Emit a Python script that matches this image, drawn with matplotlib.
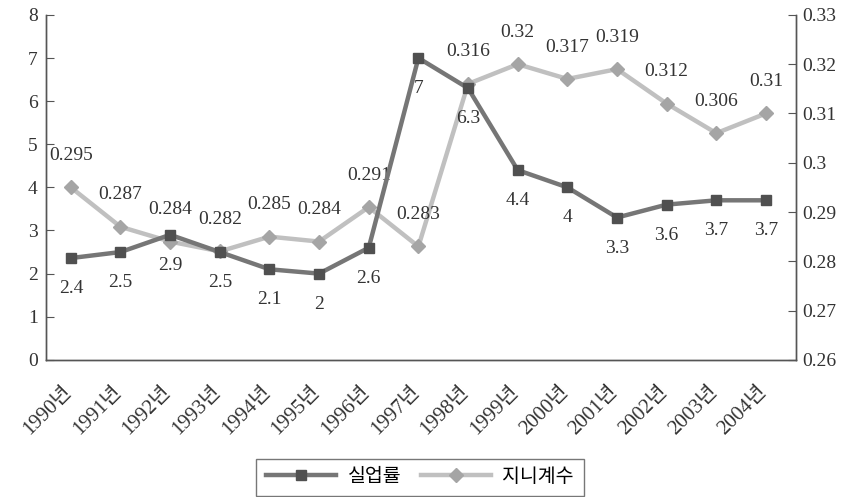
import matplotlib
matplotlib.use("Agg")
import matplotlib.pyplot as plt
import matplotlib.transforms as mtransforms
from matplotlib.lines import Line2D

plt.rcParams['font.family'] = ['Liberation Serif', 'Noto Sans CJK KR']

years = ["1990년", "1991년", "1992년", "1993년", "1994년", "1995년", "1996년", "1997년",
         "1998년", "1999년", "2000년", "2001년", "2002년", "2003년", "2004년"]
unemp = [2.36, 2.5, 2.9, 2.5, 2.1, 2.0, 2.6, 7.0, 6.3, 4.4, 4.0, 3.3, 3.6, 3.7, 3.7]
gini = [0.295, 0.287, 0.284, 0.282, 0.285, 0.284, 0.291, 0.283,
        0.316, 0.32, 0.317, 0.319, 0.312, 0.306, 0.31]

dark_line = "#767676"
dark_mark = "#505050"
light_line = "#c0c0c0"
light_mark = "#a5a5a5"
txt = "#333333"

fig = plt.figure(figsize=(8.52, 4.97), dpi=100)
ax = fig.add_axes([0.054, 0.276, 0.880, 0.694])
ax2 = ax.twinx()

x = list(range(len(years)))
ax.plot(x, unemp, color=dark_line, lw=3.2, marker="s", ms=7.5,
        mfc=dark_mark, mec=dark_mark, zorder=3)
ax2.plot(x, gini, color=light_line, lw=3.2, marker="D", ms=7.5,
         mfc=light_mark, mec=light_mark, zorder=2)
ax.set_zorder(ax2.get_zorder() + 1)
ax.patch.set_visible(False)

ax.set_xlim(-0.5, 14.6)
ax.set_ylim(0, 8)
ax2.set_ylim(0.26, 0.33)
ax.set_yticks(range(0, 9))
ax2.set_yticks([0.26, 0.27, 0.28, 0.29, 0.3, 0.31, 0.32, 0.33])
ax2.set_yticklabels(["0.26", "0.27", "0.28", "0.29", "0.3", "0.31", "0.32", "0.33"])

for a in (ax, ax2):
    a.spines["top"].set_visible(False)
    for s in a.spines.values():
        s.set_color("#555555")
        s.set_linewidth(1)
ax.tick_params(axis="y", direction="in", length=6, color="#555555",
               labelsize=14, labelcolor=txt, pad=6)
ax2.tick_params(axis="y", direction="in", length=6, color="#555555",
                labelsize=14, labelcolor=txt, pad=5)
ax.tick_params(axis="x", length=0, labelsize=15, labelcolor=txt, pad=16)
ax.set_xticks(x)
ax.set_xticklabels(years, rotation=45, ha="right", rotation_mode="anchor")
shift = mtransforms.ScaledTranslation(-6 / 72, 0, fig.dpi_scale_trans)
for lab in ax.get_xticklabels():
    lab.set_transform(lab.get_transform() + shift)

# data labels
for i, v in enumerate(unemp):
    ax.annotate(f"{round(v, 1):g}", (i, v), xytext=(0, -22), textcoords="offset points",
                ha="center", va="center", fontsize=14, color=txt)
for i, v in enumerate(gini):
    ax2.annotate(f"{v:g}", (i, v), xytext=(0, 23), textcoords="offset points",
                 ha="center", va="center", fontsize=14, color=txt)

handles = [
    Line2D([], [], color=dark_line, lw=3.2, marker="s", ms=7.5, mfc=dark_mark, mec=dark_mark),
    Line2D([], [], color=light_line, lw=3.2, marker="D", ms=7.5, mfc=light_mark, mec=light_mark),
]
leg = fig.legend(handles, ["실업률", "지니계수"], loc="center", bbox_to_anchor=(0.493, 0.04),
                 ncol=2, frameon=True, fancybox=False, fontsize=14, handlelength=3.6,
                 columnspacing=1.0, handletextpad=0.6, borderpad=0.5)
leg.get_frame().set_edgecolor("#555555")
leg.get_frame().set_linewidth(1)

fig.savefig("out.png", dpi=100)
